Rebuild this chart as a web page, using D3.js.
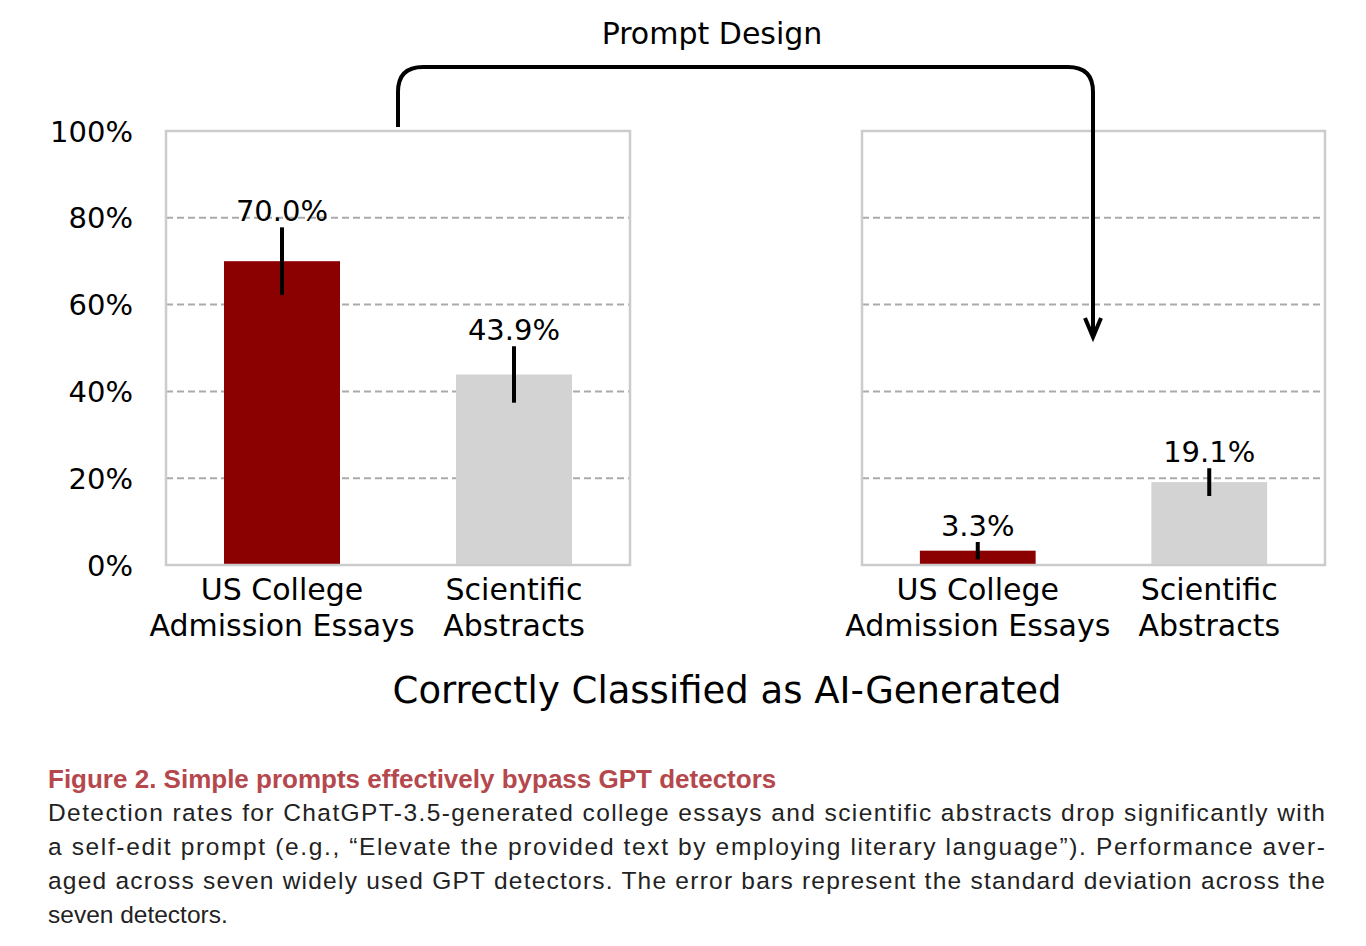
<!DOCTYPE html>
<html><head><meta charset="utf-8">
<script src="https://cdn.jsdelivr.net/npm/d3@7"></script>
<style>body{margin:0;background:#fff}</style>
</head><body>
<svg width="1366" height="946"></svg>
<script>
const categories = ["US College\nAdmission Essays", "Scientific\nAbstracts"];
const beforeValues = [70.0, 43.9];
const beforeErrors = [7.8, 6.5];
const afterValues = [3.3, 19.1];
const afterErrors = [2.0, 3.2];
const yTicks = [0, 20, 40, 60, 80, 100];
const barColors = ["#8b0000", "#d3d3d3"];
const captionTitle = "Figure 2.  Simple prompts effectively bypass GPT detectors";
const captionLines = [
  "Detection rates for ChatGPT-3.5-generated college essays and scientific abstracts drop significantly with",
  "a self-edit prompt (e.g., \u201cElevate the provided text by employing literary language\u201d). Performance aver-",
  "aged across seven widely used GPT detectors. The error bars represent the standard deviation across the",
  "seven detectors."
];

const svg = d3.select("svg");
const font = "DejaVu Sans, sans-serif";
const y = d3.scaleLinear().domain([0, 100]).range([565, 131]);

const drawPanel = (x0, x1, values, errors, showAxis) => {
  const g = svg.append("g");
  const x = d3.scaleBand().domain(categories).range([x0, x1]).paddingInner(0.5).paddingOuter(0.25);
  // grid
  g.selectAll(".grid").data([20, 40, 60, 80]).enter().append("line")
    .attr("x1", x0).attr("x2", x1).attr("y1", d => y(d)).attr("y2", d => y(d))
    .attr("stroke", "#aaa").attr("stroke-width", 2).attr("stroke-dasharray", "7,4");
  g.selectAll(".bar").data(values).enter().append("rect")
    .attr("x", (d, i) => x(categories[i])).attr("width", x.bandwidth())
    .attr("y", d => y(d)).attr("height", d => y(0) - y(d))
    .attr("fill", (d, i) => barColors[i]);
  g.selectAll(".err").data(values).enter().append("line")
    .attr("x1", (d, i) => x(categories[i]) + x.bandwidth() / 2)
    .attr("x2", (d, i) => x(categories[i]) + x.bandwidth() / 2)
    .attr("y1", (d, i) => y(Math.max(0, d - errors[i])))
    .attr("y2", (d, i) => y(d + errors[i]))
    .attr("stroke", "#000").attr("stroke-width", 4);
  g.selectAll(".lbl").data(values).enter().append("text")
    .attr("x", (d, i) => x(categories[i]) + x.bandwidth() / 2)
    .attr("y", (d, i) => y(d + errors[i]) - 6)
    .attr("text-anchor", "middle").attr("font-family", font).attr("font-size", 29)
    .text(d => d.toFixed(1) + "%");
  g.append("rect").attr("x", x0).attr("y", y(100)).attr("width", x1 - x0).attr("height", y(0) - y(100))
    .attr("fill", "none").attr("stroke", "#ccc").attr("stroke-width", 2.5);
  categories.forEach(c => {
    const t = g.append("text").attr("text-anchor", "middle").attr("font-family", font).attr("font-size", 30);
    c.split("\n").forEach((s, k) => t.append("tspan").attr("x", x(c) + x.bandwidth() / 2).attr("y", 600 + k * 36).text(s));
  });
  if (showAxis) {
    const ax = svg.append("g").attr("transform", `translate(${x0 - 30},0)`)
      .call(d3.axisLeft(y).tickValues(yTicks).tickFormat(d => d + "%").tickSize(0));
    ax.select(".domain").remove();
    ax.selectAll("text").attr("font-family", font).attr("font-size", 29).attr("fill", "#000").attr("dy", "0.35em");
  }
};

drawPanel(166, 630, beforeValues, beforeErrors, true);
drawPanel(862, 1325, afterValues, afterErrors, false);

// arrow
svg.append("path")
  .attr("d", "M398,127 L398,92 Q398,67 423,67 L1068,67 Q1093,67 1093,92 L1093,333")
  .attr("fill", "none").attr("stroke", "#000").attr("stroke-width", 4);
svg.append("path").attr("d", "M1085,318 L1093,337 L1101,318").attr("fill", "none").attr("stroke", "#000").attr("stroke-width", 4);
svg.append("text").attr("x", 712).attr("y", 44).attr("text-anchor", "middle")
  .attr("font-family", font).attr("font-size", 30).text("Prompt Design");
svg.append("text").attr("x", 727).attr("y", 703).attr("text-anchor", "middle")
  .attr("font-family", font).attr("font-size", 37).text("Correctly Classified as AI-Generated");

// caption
const cf = "Liberation Sans, Arial, sans-serif";
svg.append("text").attr("x", 48).attr("y", 788).attr("font-family", cf).attr("font-weight", "bold")
  .attr("font-size", 26).attr("fill", "#b5484d").text(captionTitle);
captionLines.forEach((s, i) => {
  const t = svg.append("text").attr("x", 48).attr("y", 821 + i * 34).attr("font-family", cf)
    .attr("font-size", 24.5).attr("fill", "#222").text(s);
  if (i < 3) t.attr("textLength", 1277).attr("lengthAdjust", "spacing");
});
</script>
</body></html>
